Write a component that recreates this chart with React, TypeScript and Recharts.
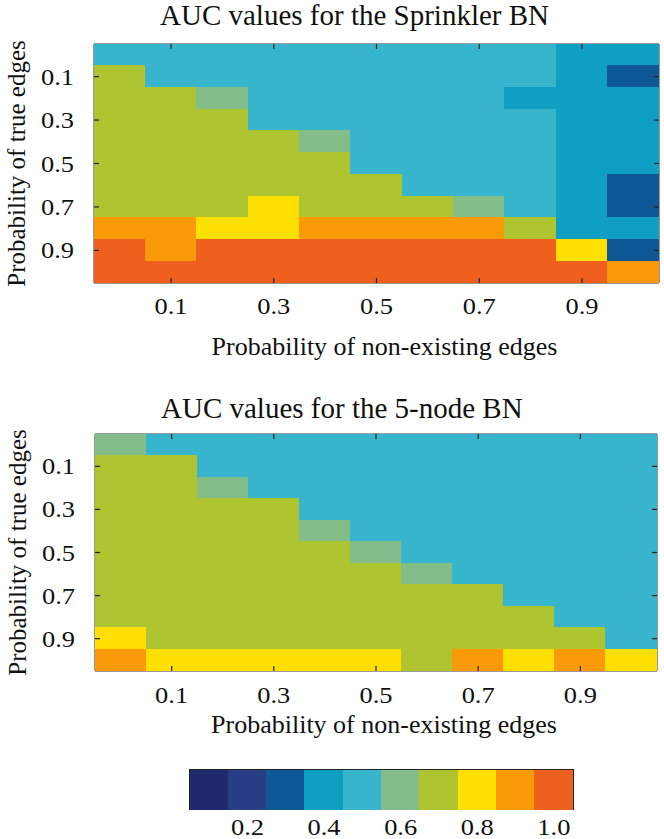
import React from 'react';
import { BarChart, Bar, XAxis, YAxis, Cell, ReferenceArea } from 'recharts';

const FONT = '"Liberation Serif", "Times New Roman", serif';

// columns: probability of non-existing edges, rows: probability of true edges
const nonExistingProbs = ['0', '0.1', '0.2', '0.3', '0.4', '0.5', '0.6', '0.7', '0.8', '0.9', '1.0'];
const trueEdgeProbs = ['0', '0.1', '0.2', '0.3', '0.4', '0.5', '0.6', '0.7', '0.8', '0.9', '1.0'];
const labelledProbs = ['0.1', '0.3', '0.5', '0.7', '0.9'];

// AUC per cell, one row per true-edge probability (top to bottom)
const sprinklerAuc = [
  [0.5, 0.5, 0.5, 0.5, 0.5, 0.5, 0.5, 0.5, 0.5, 0.4, 0.4],
  [0.7, 0.5, 0.5, 0.5, 0.5, 0.5, 0.5, 0.5, 0.5, 0.4, 0.3],
  [0.7, 0.7, 0.6, 0.5, 0.5, 0.5, 0.5, 0.5, 0.4, 0.4, 0.4],
  [0.7, 0.7, 0.7, 0.5, 0.5, 0.5, 0.5, 0.5, 0.5, 0.4, 0.4],
  [0.7, 0.7, 0.7, 0.7, 0.6, 0.5, 0.5, 0.5, 0.5, 0.4, 0.4],
  [0.7, 0.7, 0.7, 0.7, 0.7, 0.5, 0.5, 0.5, 0.5, 0.4, 0.4],
  [0.7, 0.7, 0.7, 0.7, 0.7, 0.7, 0.5, 0.5, 0.5, 0.4, 0.3],
  [0.7, 0.7, 0.7, 0.8, 0.7, 0.7, 0.7, 0.6, 0.5, 0.4, 0.3],
  [0.9, 0.9, 0.8, 0.8, 0.9, 0.9, 0.9, 0.9, 0.7, 0.4, 0.4],
  [1.0, 0.9, 1.0, 1.0, 1.0, 1.0, 1.0, 1.0, 1.0, 0.8, 0.3],
  [1.0, 1.0, 1.0, 1.0, 1.0, 1.0, 1.0, 1.0, 1.0, 1.0, 0.9],
];

const fiveNodeAuc = [
  [0.6, 0.5, 0.5, 0.5, 0.5, 0.5, 0.5, 0.5, 0.5, 0.5, 0.5],
  [0.7, 0.7, 0.5, 0.5, 0.5, 0.5, 0.5, 0.5, 0.5, 0.5, 0.5],
  [0.7, 0.7, 0.6, 0.5, 0.5, 0.5, 0.5, 0.5, 0.5, 0.5, 0.5],
  [0.7, 0.7, 0.7, 0.7, 0.5, 0.5, 0.5, 0.5, 0.5, 0.5, 0.5],
  [0.7, 0.7, 0.7, 0.7, 0.6, 0.5, 0.5, 0.5, 0.5, 0.5, 0.5],
  [0.7, 0.7, 0.7, 0.7, 0.7, 0.6, 0.5, 0.5, 0.5, 0.5, 0.5],
  [0.7, 0.7, 0.7, 0.7, 0.7, 0.7, 0.6, 0.5, 0.5, 0.5, 0.5],
  [0.7, 0.7, 0.7, 0.7, 0.7, 0.7, 0.7, 0.7, 0.5, 0.5, 0.5],
  [0.7, 0.7, 0.7, 0.7, 0.7, 0.7, 0.7, 0.7, 0.7, 0.5, 0.5],
  [0.8, 0.7, 0.7, 0.7, 0.7, 0.7, 0.7, 0.7, 0.7, 0.7, 0.5],
  [0.9, 0.8, 0.8, 0.8, 0.8, 0.8, 0.7, 0.9, 0.8, 0.9, 0.8],
];

const aucLevels = ['0.1', '0.2', '0.3', '0.4', '0.5', '0.6', '0.7', '0.8', '0.9', '1.0'];
const aucColors = ['#1e2a6b', '#283e86', '#0e5895', '#0e9fc3', '#36b5cc', '#82bd8a', '#aec431', '#fddf02', '#fa9a08', '#ef601e'];
const colorbarLabels = ['0.2', '0.4', '0.6', '0.8', '1.0'];

const colorFor = (v: number) => {
  let best = 0;
  aucLevels.forEach((l, i) => {
    if (Math.abs(Number(l) - v) < Math.abs(Number(aucLevels[best]) - v)) best = i;
  });
  return aucColors[best];
};

// the original's lettering is a little wider than Times
const STRETCH = 1.15;

const XTick = (props: any) => {
  const { x, y, payload, gap, labels, mark } = props;
  if (!labels.includes(String(payload.value))) return null;
  return (
    <g>
      {mark > 0 && <line x1={x} x2={x} y1={y} y2={y - 5} stroke="#222" strokeWidth={1.2} />}
      {mark > 0 && <line x1={x} x2={x} y1={y - mark} y2={y - mark + 5} stroke="#222" strokeWidth={1.2} />}
      <text
        transform={`translate(${x}, ${y + gap}) scale(${STRETCH}, 1)`}
        textAnchor="middle"
        fontFamily={FONT}
        fontSize={23}
        fill="#111"
      >
        {payload.value}
      </text>
    </g>
  );
};

const YTick = (props: any) => {
  const { x, y, payload, span } = props;
  const label = trueEdgeProbs[Math.floor(payload.value)];
  return (
    <g>
      <line x1={x} x2={x + 5} y1={y} y2={y} stroke="#222" strokeWidth={1.2} />
      <line x1={x + span} x2={x + span - 5} y1={y} y2={y} stroke="#222" strokeWidth={1.2} />
      <text
        transform={`translate(${x - 20}, ${y}) scale(${STRETCH}, 1)`}
        dy="0.35em"
        textAnchor="end"
        fontFamily={FONT}
        fontSize={23}
        fill="#111"
      >
        {label}
      </text>
    </g>
  );
};

type HeatmapProps = {
  auc: number[][];
  title: string;
  height: number;
  margin: { top: number; right: number; bottom: number; left: number };
  titleGap: number;
  tickGap: number;
  xLabelGap: number;
};

const yTickValues = labelledProbs.map((v) => trueEdgeProbs.indexOf(v) + 0.5);

const Heatmap = (p: HeatmapProps) => {
  const data = nonExistingProbs.map((x) => {
    const d: Record<string, string | number> = { x };
    trueEdgeProbs.forEach((_, i) => {
      d['r' + i] = 1;
    });
    return d;
  });
  const plotW = 664 - p.margin.left - p.margin.right - 1;
  const plotH = p.height - p.margin.top - p.margin.bottom - 1;
  return (
    <BarChart width={664} height={p.height} data={data} margin={p.margin} barCategoryGap={0} barGap={0}>
      {trueEdgeProbs.map((_, i) => (
        <Bar key={i} dataKey={'r' + i} stackId="cells" isAnimationActive={false}>
          {nonExistingProbs.map((__, j) => {
            const c = colorFor(p.auc[i][j]);
            return <Cell key={j} fill={c} stroke={c} strokeWidth={1} shapeRendering="crispEdges" />;
          })}
        </Bar>
      ))}
      <ReferenceArea
        x1={nonExistingProbs[0]}
        x2={nonExistingProbs[nonExistingProbs.length - 1]}
        y1={0}
        y2={trueEdgeProbs.length}
        fill="none"
        fillOpacity={0}
        stroke="#333"
        strokeWidth={1}
        ifOverflow="visible"
      />
      <XAxis
        dataKey="x"
        height={1}
        tickSize={0}
        tickMargin={0}
        tickLine={false}
        interval={0}
        axisLine={false}
        tick={(t: any) => <XTick {...t} gap={p.tickGap} labels={labelledProbs} mark={plotH} />}
        label={(l: any) => (
          <g>
            <text
              x={l.viewBox.x + l.viewBox.width / 2 + 8}
              y={l.viewBox.y + p.xLabelGap}
              textAnchor="middle"
              fontFamily={FONT}
              fontSize={26}
              fill="#111"
            >
              Probability of non-existing edges
            </text>
            <text
              x={l.viewBox.x + 66}
              y={l.viewBox.y - plotH - p.titleGap}
              textAnchor="start"
              fontFamily={FONT}
              fontSize={29}
              fill="#111"
            >
              {p.title}
            </text>
          </g>
        )}
      />
      <YAxis
        type="number"
        domain={[0, trueEdgeProbs.length]}
        allowDataOverflow
        reversed
        width={1}
        ticks={yTickValues}
        tickSize={0}
        tickMargin={0}
        tickLine={false}
        axisLine={false}
        tick={(t: any) => <YTick {...t} span={plotW} />}
        label={(l: any) => (
          <text
            transform={`translate(${l.viewBox.x - 68}, ${l.viewBox.y + l.viewBox.height / 2}) rotate(-90)`}
            textAnchor="middle"
            fontFamily={FONT}
            fontSize={25}
            fill="#111"
          >
            Probability of true edges
          </text>
        )}
      />
    </BarChart>
  );
};

const Colorbar = () => {
  const data = aucLevels.map((level) => ({ level, v: 1 }));
  return (
    <BarChart width={664} height={89} data={data} margin={{ top: 20, right: 91, bottom: 29, left: 190 }} barCategoryGap={0} barGap={0}>
      <Bar dataKey="v" isAnimationActive={false}>
        {aucLevels.map((l, i) => (
          <Cell key={l} fill={aucColors[i]} stroke={aucColors[i]} strokeWidth={1} shapeRendering="crispEdges" />
        ))}
      </Bar>
      <ReferenceArea
        x1={aucLevels[0]}
        x2={aucLevels[aucLevels.length - 1]}
        y1={0}
        y2={1}
        fill="none"
        fillOpacity={0}
        stroke="#222"
        strokeWidth={2}
        ifOverflow="visible"
      />
      <XAxis
        dataKey="level"
        height={1}
        tickSize={0}
        tickMargin={0}
        tickLine={false}
        interval={0}
        axisLine={false}
        tick={(t: any) => <XTick {...t} gap={26} labels={colorbarLabels} mark={0} />}
      />
      <YAxis type="number" domain={[0, 1]} hide />
    </BarChart>
  );
};

export default function App() {
  return (
    <div style={{ position: 'absolute', left: 0, top: 0, width: 664, height: 839, background: '#fff' }}>
      <div style={{ position: 'absolute', left: 0, top: 0 }}>
        <Heatmap
          auc={sprinklerAuc}
          title="AUC values for the Sprinkler BN"
          height={380}
          margin={{ top: 44, right: 5, bottom: 96, left: 93 }}
          titleGap={19}
          tickGap={31}
          xLabelGap={72}
        />
      </div>
      <div style={{ position: 'absolute', left: 0, top: 380 }}>
        <Heatmap
          auc={fiveNodeAuc}
          title="AUC values for the 5-node BN"
          height={370}
          margin={{ top: 54, right: 7, bottom: 78, left: 94 }}
          titleGap={16}
          tickGap={32}
          xLabelGap={62}
        />
      </div>
      <div style={{ position: 'absolute', left: 0, top: 750 }}>
        <Colorbar />
      </div>
    </div>
  );
}
